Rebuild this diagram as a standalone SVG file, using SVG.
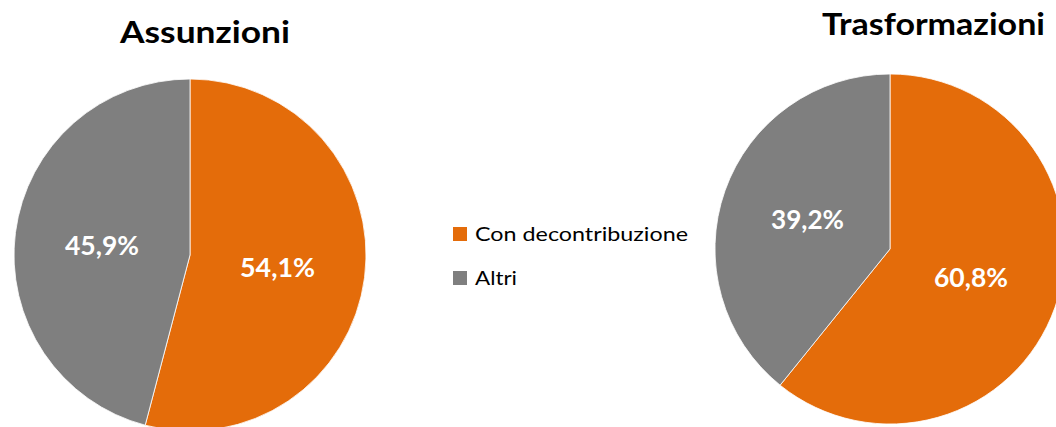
<svg xmlns="http://www.w3.org/2000/svg" width="1056" height="427" viewBox="0 0 1056 427">
<style>
.title{font-family:Lato,"Open Sans","Liberation Sans",sans-serif;font-weight:bold;font-size:31px;fill:#000}
.lbl{font-family:Lato,"Open Sans","Liberation Sans",sans-serif;font-weight:bold;font-size:26px;fill:#fff}
.leg{font-family:Lato,"Open Sans","Liberation Sans",sans-serif;font-size:20px;fill:#000}
.or{fill:#E46C0A;stroke:#fff;stroke-width:0.8}
.gr{fill:#7F7F7F;stroke:#fff;stroke-width:0.8}
</style>
<rect width="1056" height="427" fill="#fff"/>
<g id="chart-assunzioni">
<text class="title" x="120" y="43" textLength="170" lengthAdjust="spacingAndGlyphs">Assunzioni</text>
<path class="or" d="M190,255 L190,79 A176,176 0 1 1 145.2,425.2 Z"/>
<path class="gr" d="M190,255 L145.2,425.2 A176,176 0 0 1 190,79 Z"/>
<text class="lbl" x="65" y="255" textLength="74" lengthAdjust="spacingAndGlyphs">45,9%</text>
<text class="lbl" x="240" y="277" textLength="75" lengthAdjust="spacingAndGlyphs">54,1%</text>
</g>
<g id="legend">
<rect x="453" y="227" width="14" height="14" fill="#E46C0A"/>
<text class="leg" x="475" y="241" textLength="213" lengthAdjust="spacingAndGlyphs">Con decontribuzione</text>
<rect x="453" y="271" width="14" height="14" fill="#7F7F7F"/>
<text class="leg" x="475" y="285" textLength="42" lengthAdjust="spacingAndGlyphs">Altri</text>
</g>
<g id="chart-trasformazioni">
<text class="title" x="822" y="35" textLength="223" lengthAdjust="spacingAndGlyphs">Trasformazioni</text>
<path class="or" d="M890,249 L890,74 A175,175 0 1 1 780.1,385.2 Z"/>
<path class="gr" d="M890,249 L780.1,385.2 A175,175 0 0 1 890,74 Z"/>
<text class="lbl" x="771" y="229" textLength="73" lengthAdjust="spacingAndGlyphs">39,2%</text>
<text class="lbl" x="934" y="287" textLength="74" lengthAdjust="spacingAndGlyphs">60,8%</text>
</g>
<g id="connectors"/>
</svg>
